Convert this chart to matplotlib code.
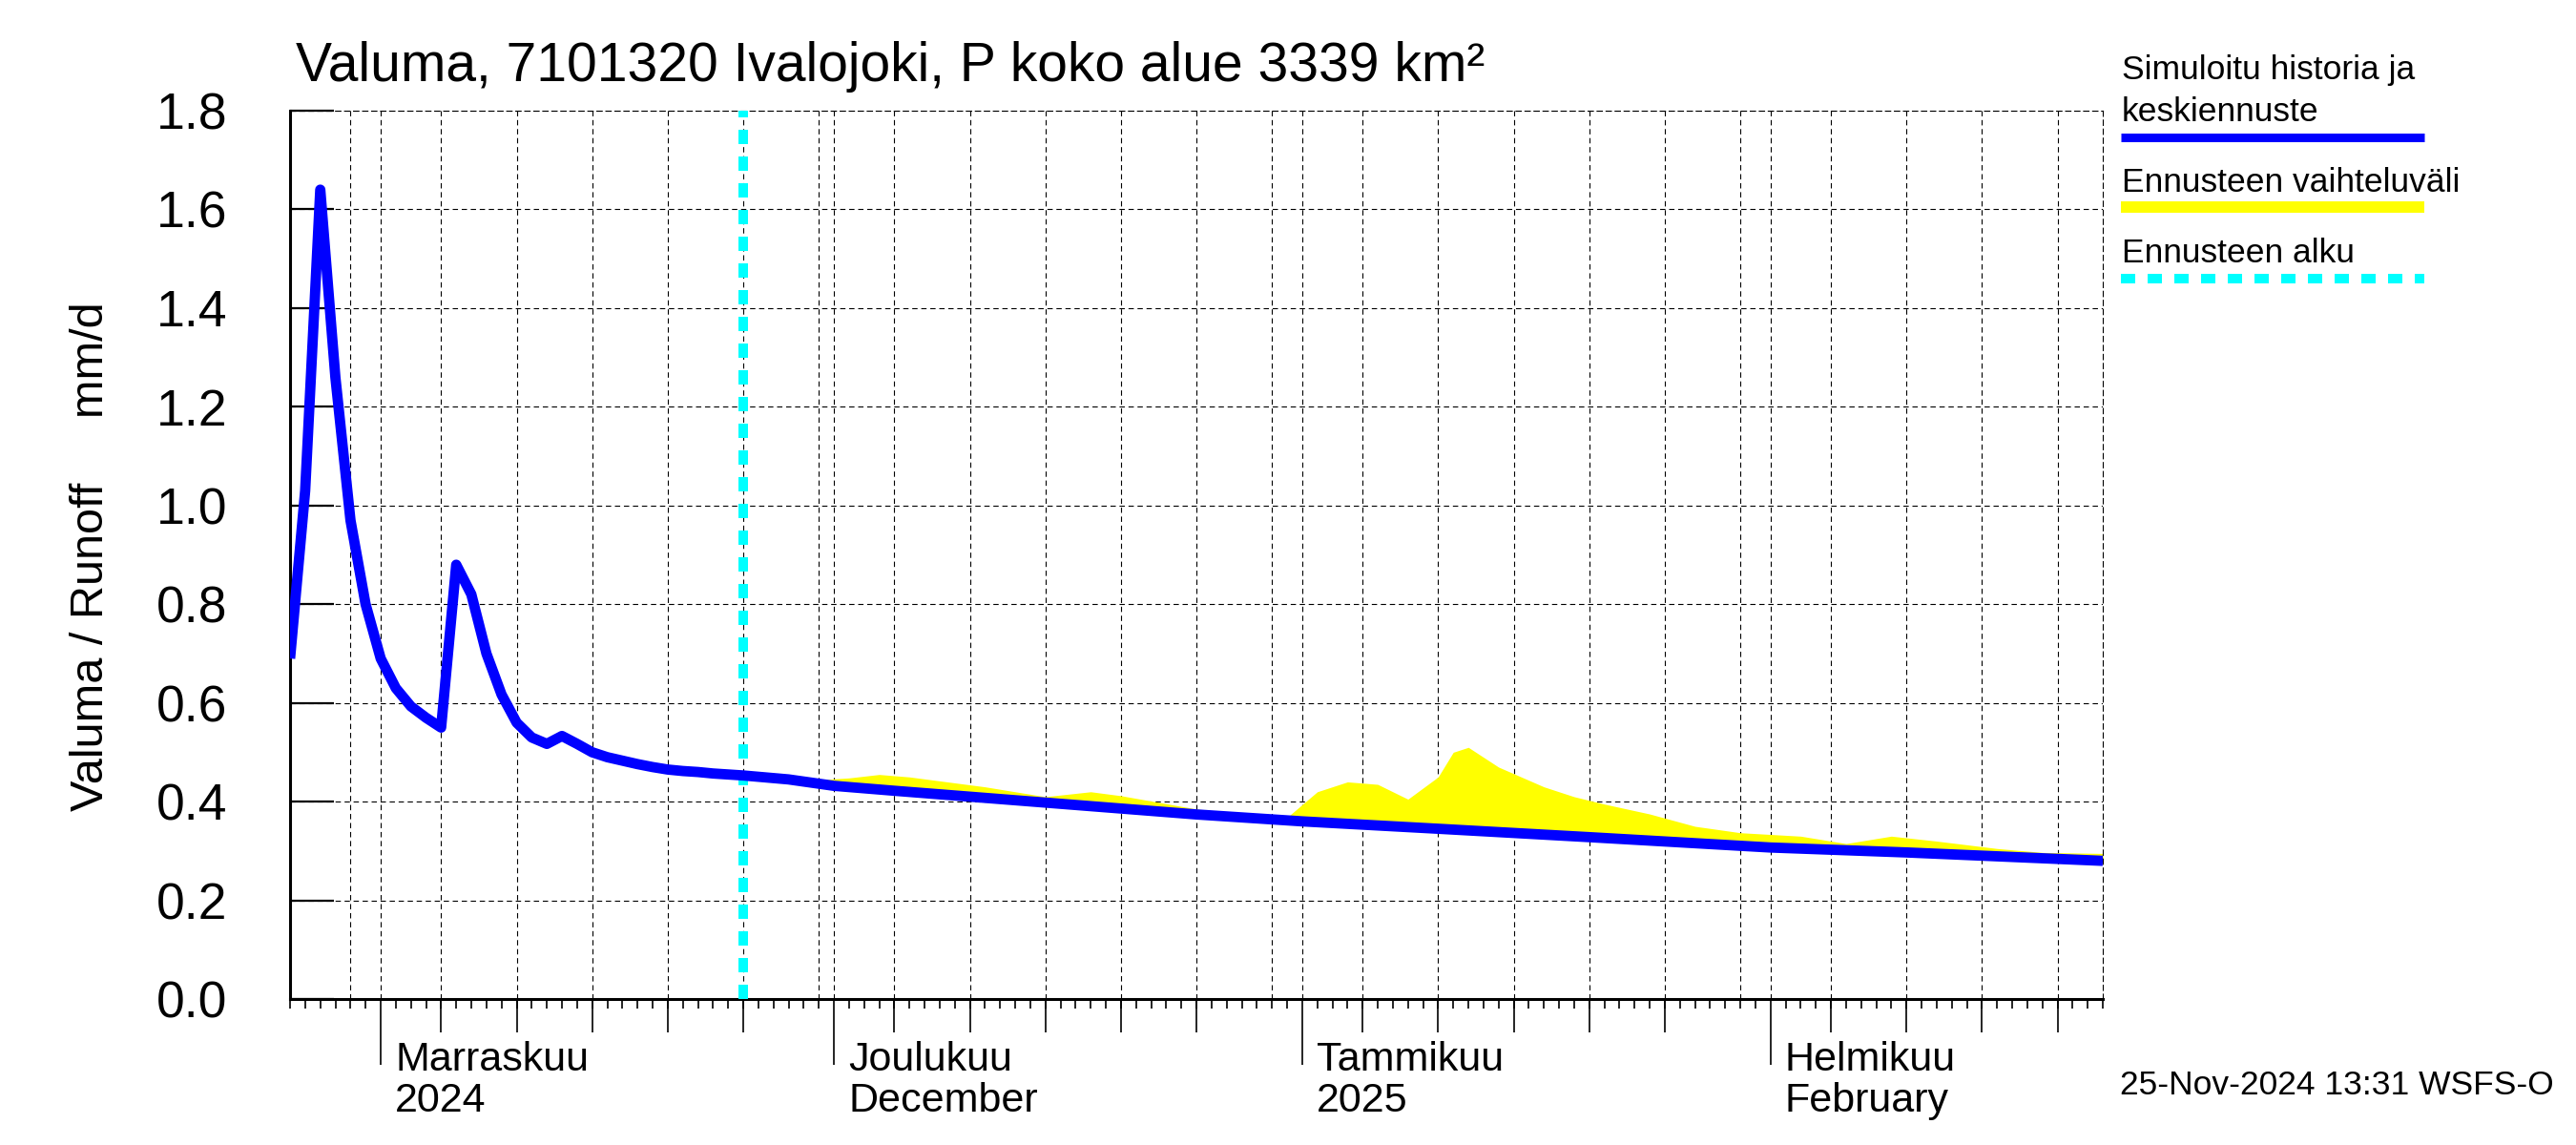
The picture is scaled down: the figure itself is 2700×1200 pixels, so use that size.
import matplotlib
matplotlib.use('Agg')
import matplotlib.pyplot as plt
import matplotlib.dates as mdates
import matplotlib.transforms as mtrans
from matplotlib.lines import Line2D
import numpy as np
import pandas as pd

plt.rcParams['font.family'] = ['Liberation Sans', 'DejaVu Sans']

# ---------------- data ----------------
title = "Valuma, 7101320 Ivalojoki, P koko alue 3339 km²"
y_label = "Valuma / Runoff     mm/d"
timestamp = "25-Nov-2024 13:31 WSFS-O"

hist_start = "2024-10-26"
hist_values = [0.69, 1.03, 1.64, 1.26, 0.97, 0.80, 0.69, 0.63, 0.593, 0.57, 0.55,
               0.88, 0.82, 0.70, 0.617, 0.56, 0.53, 0.517, 0.533, 0.517, 0.50,
               0.49, 0.483, 0.476, 0.47, 0.465, 0.462, 0.46, 0.457, 0.455, 0.453]

fc_dates = ["2024-11-25", "2024-11-28", "2024-12-01", "2024-12-05", "2024-12-10",
            "2024-12-15", "2024-12-20", "2024-12-25", "2025-01-01", "2025-01-10",
            "2025-01-20", "2025-02-01", "2025-02-10", "2025-02-23"]
fc_mean = [0.453, 0.445, 0.432, 0.422, 0.41, 0.398, 0.386, 0.374, 0.36, 0.345,
           0.328, 0.307, 0.297, 0.28]

band_dates = ["2024-11-25", "2024-11-29", "2024-12-02", "2024-12-04", "2024-12-06",
              "2024-12-11", "2024-12-15", "2024-12-18", "2024-12-20", "2024-12-25",
              "2024-12-28", "2024-12-31", "2025-01-02", "2025-01-04", "2025-01-06",
              "2025-01-08", "2025-01-10", "2025-01-11", "2025-01-12", "2025-01-14",
              "2025-01-17", "2025-01-19", "2025-01-21", "2025-01-24", "2025-01-27",
              "2025-01-30", "2025-02-03", "2025-02-06", "2025-02-09", "2025-02-12",
              "2025-02-16", "2025-02-19", "2025-02-23"]
band_upper = [0.453, 0.442, 0.448, 0.455, 0.450, 0.430, 0.410, 0.420, 0.412, 0.385,
              0.375, 0.368, 0.420, 0.440, 0.435, 0.405, 0.450, 0.500, 0.510, 0.470,
              0.430, 0.410, 0.395, 0.375, 0.350, 0.337, 0.330, 0.315, 0.330, 0.320,
              0.305, 0.297, 0.295]
band_lower = [0.452, 0.440, 0.430, 0.425, 0.420, 0.408, 0.396, 0.389, 0.385, 0.372,
              0.366, 0.360, 0.357, 0.354, 0.352, 0.349, 0.345, 0.344, 0.343, 0.340,
              0.335, 0.332, 0.328, 0.323, 0.318, 0.312, 0.305, 0.301, 0.297, 0.293,
              0.288, 0.285, 0.279]

forecast_start = "2024-11-25"
x_start, x_end = "2024-10-26", "2025-02-23"
y_ticks = [0.0, 0.2, 0.4, 0.6, 0.8, 1.0, 1.2, 1.4, 1.6, 1.8]
y_ticklabels = ["0.0", "0.2", "0.4", "0.6", "0.8", "1.0", "1.2", "1.4", "1.6", "1.8"]

month_dates = ["2024-11-01", "2024-12-01", "2025-01-01", "2025-02-01"]
month_line1 = ["Marraskuu", "Joulukuu", "Tammikuu", "Helmikuu"]
month_line2 = ["2024", "December", "2025", "February"]

# ---------------- helpers ----------------
def dn(s):
    return mdates.date2num(pd.Timestamp(s).to_pydatetime())

hist_x = [dn(d) for d in pd.date_range(hist_start, periods=len(hist_values), freq="D")]
fc_x = [dn(d) for d in fc_dates]
line_x = hist_x + fc_x[1:]
line_y = hist_values + fc_mean[1:]
band_x = [dn(d) for d in band_dates]

BLUE = "#0000ff"
YELLOW = "#ffff00"
CYAN = "#00ffff"

fig = plt.figure(figsize=(27, 12), dpi=100)
ax = fig.add_axes([0.1126, 0.1275, 0.7037, 0.7758])

xmin, xmax = dn(x_start), dn(x_end)
ax.set_xlim(xmin, xmax)
ax.set_ylim(0, 1.8)

# grid
all_days = pd.date_range(x_start, x_end, freq="D")
for d in all_days:
    if d.day in (1, 5, 10, 15, 20, 25, 30):
        ax.axvline(dn(d), color="black", lw=0.8, dashes=(5, 3.5), zorder=1)
for v in y_ticks[1:]:
    ax.axhline(v, color="black", lw=0.8, dashes=(5, 3.5), zorder=1)

# data
ax.fill_between(band_x, band_lower, band_upper, color=YELLOW, lw=0, zorder=2)
ax.axvline(dn(forecast_start), color=CYAN, lw=7.2, dashes=(1.5, 1.3),
           solid_capstyle="butt", dash_capstyle="butt", zorder=3)
ax.plot(line_x, line_y, color=BLUE, lw=7.8, solid_joinstyle="round",
        solid_capstyle="butt", zorder=4)

# spines
for s in ("left", "bottom"):
    ax.spines[s].set_linewidth(2.2)
for s in ("top", "right"):
    ax.spines[s].set_linewidth(0.8)
    ax.spines[s].set_linestyle((0, (5, 3.5)))

# y ticks
ax.set_yticks(y_ticks)
ax.set_yticklabels(y_ticklabels)
ax.tick_params(axis="y", direction="in", length=33, width=1.6, labelsize=38.5, pad=47)

# x ticks: month (major), daily (minor), 5-day (secondary)
month_x = [dn(d) for d in month_dates]
ax.set_xticks(month_x)
ax.set_xticks([dn(d) for d in all_days], minor=True)
ax.tick_params(axis="x", which="major", direction="out", length=50, width=1.2, labelbottom=False)
ax.tick_params(axis="x", which="minor", direction="out", length=7, width=1.2)

sec = ax.secondary_xaxis("bottom")
sec.set_xticks([dn(d) for d in all_days if d.day in (5, 10, 15, 20, 25)])
sec.tick_params(axis="x", direction="out", length=25, width=1.2, labelbottom=False)
sec.spines["bottom"].set_visible(False)

# month labels
tr = mtrans.offset_copy(mtrans.blended_transform_factory(ax.transData, fig.transFigure),
                        fig=fig, x=11, y=0, units="points")
for mx, l1, l2 in zip(month_x, month_line1, month_line2):
    ax.text(mx, 1 - 1122 / 1200, l1, transform=tr, fontsize=31, ha="left", va="baseline")
    ax.text(mx, 1 - 1165 / 1200, l2, transform=tr, fontsize=31, ha="left", va="baseline")

# title, labels
fig.text(0.1148, 1 - 85 / 1200, title, fontsize=41, ha="left", va="baseline")
fig.text(0.0352, 0.514, y_label, fontsize=35, rotation=90, ha="center", va="center")
fig.text(2222 / 2700, 1 - 1147 / 1200, timestamp, fontsize=25.5, ha="left", va="baseline")

# legend (manual, right side)
lx0, lx1 = 2223 / 2700, 2541 / 2700
fig.text(2224 / 2700, 1 - 83.3 / 1200, "Simuloitu historia ja", fontsize=25.5, ha="left", va="baseline")
fig.text(2224 / 2700, 1 - 126.7 / 1200, "keskiennuste", fontsize=25.5, ha="left", va="baseline")
fig.add_artist(Line2D([lx0, lx1], [1 - 143.5 / 1200] * 2, color=BLUE, lw=6.5,
                      solid_capstyle="butt", transform=fig.transFigure))
fig.text(2224 / 2700, 1 - 200.7 / 1200, "Ennusteen vaihteluväli", fontsize=25.5, ha="left", va="baseline")
fig.add_artist(Line2D([lx0, lx1], [1 - 217 / 1200] * 2, color=YELLOW, lw=8.6,
                      solid_capstyle="butt", transform=fig.transFigure))
fig.text(2224 / 2700, 1 - 275 / 1200, "Ennusteen alku", fontsize=25.5, ha="left", va="baseline")
fig.add_artist(Line2D([lx0, lx1], [1 - 292 / 1200] * 2, color=CYAN, lw=7.2,
                      dashes=(1.5, 1.3), dash_capstyle="butt", transform=fig.transFigure))

fig.savefig("out.png", dpi=100)
